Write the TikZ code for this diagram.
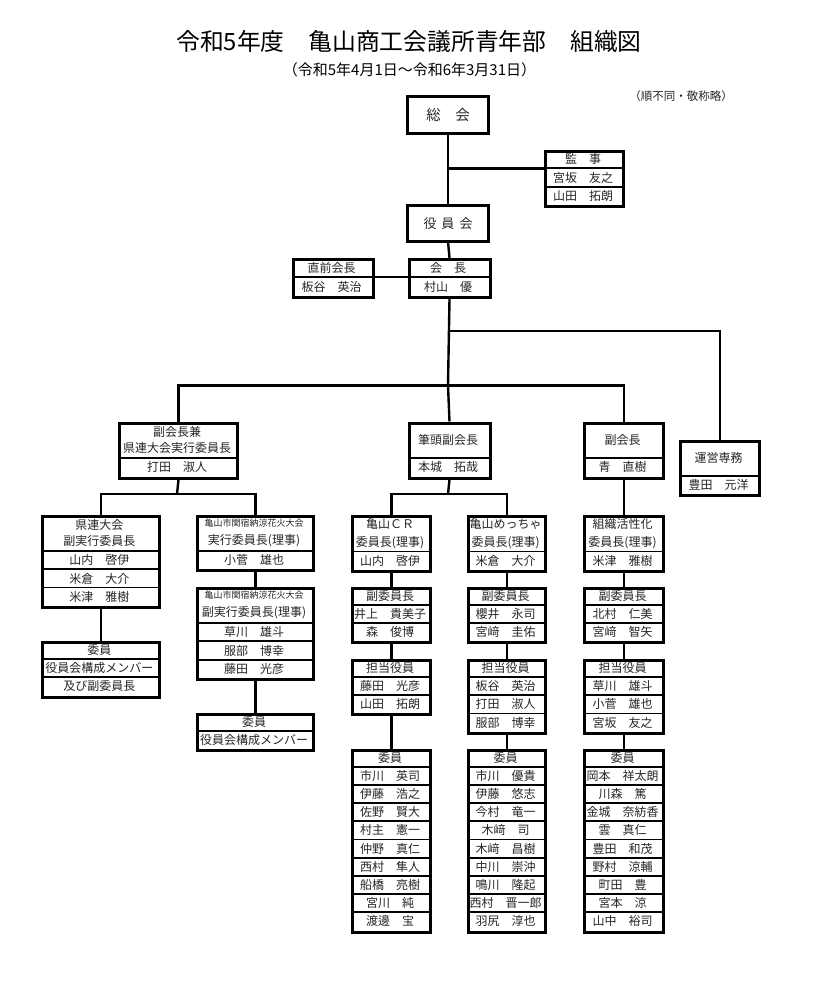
\documentclass[tikz,border=0pt]{standalone}
\usepackage{fontspec}
\setmainfont{Noto Sans CJK JP}
\usetikzlibrary{calc}
\tikzset{
  frame/.style={draw=black, line width=3pt, inner sep=0pt},
  cell/.style={inner sep=0pt, outer sep=0pt, align=center, text=black!85, font=\fontsize{12}{16}\selectfont},
  divider/.style={line width=1.7pt},
  conn/.style={line width=2.4pt},
}
% #1 name, #2 left, #3 top, #4 width, #5 first row height, #6 other row height, #7 number of other rows, #8 first text, #9 other texts
\newcommand\orgbox[9]{%
  \node[cell, minimum width=#4pt, minimum height=#5pt, anchor=north west] (#1-0) at (#2,#3) {#8};
  \foreach \rtx [count=\ri] in {#9}{%
    \pgfmathsetmacro\yy{#3+#5+(\ri-1)*#6}%
    \node[cell, minimum width=#4pt, minimum height=#6pt, anchor=north west] (#1-\ri) at (#2,\yy) {\rtx};
    \draw[divider] (#1-\ri.north west) -- (#1-\ri.north east);
  }%
  \pgfmathsetmacro\hh{#5+#7*#6}%
  \node[frame, minimum width=#4pt, minimum height=\hh pt, anchor=north west] (#1) at (#2,#3) {};
}
% #1 name, #2 left, #3 top, #4 width, #5 height, #6 text
\newcommand\onebox[6]{%
  \node[cell, frame, minimum width=#4pt, minimum height=#5pt, anchor=north west] (#1) at (#2,#3) {#6};
}
\begin{document}
\begin{tikzpicture}[x=1pt,y=-1pt]
\fill[white] (0,0) rectangle (825,999);
\useasboundingbox (0,0) rectangle (825,999);

% titles
\node (title) at (409,41.7) {\fontsize{23.8}{23.8}\selectfont 令和5年度　亀山商工会議所青年部　組織図};
\node (sub) at (409.5,70) {\fontsize{15}{15}\selectfont （令和5年4月1日～令和6年3月31日）};
\node[text=black!85] (note) at (681,96) {\fontsize{11.5}{11.5}\selectfont （順不同・敬称略）};

% top
\onebox{sokai}{407.5}{96.5}{81}{36.5}{\fontsize{14.5}{14.5}\selectfont 総　会}
\orgbox{kanji}{544}{150}{78}{18.3}{18.5}{2}{監　事}{宮坂　友之,山田　拓朗}
\onebox{yakuinkai}{407.5}{205}{81}{36.5}{\fontsize{13}{13}\selectfont 役\hspace{5pt}員\hspace{5pt}会}
\orgbox{kaicho}{407.5}{258}{81}{19}{19}{1}{会　長}{村山　優}
\orgbox{zenkaicho}{291.7}{258}{80}{19}{19}{1}{直前会長}{板谷　英治}

% middle row
\orgbox{fukuken}{118}{421.5}{118}{36.5}{18.7}{1}{副会長兼\\県連大会実行委員長}{打田　淑人}
\orgbox{hitto}{407.5}{421.5}{81}{36.5}{18.7}{1}{筆頭副会長}{本城　拓哉}
\orgbox{fuku}{583}{421.5}{79}{36.3}{18.9}{1}{副会長}{青　直樹}
\orgbox{unei}{679}{440}{79}{35.7}{18.3}{1}{運営専務}{豊田　元洋}

% left branch
\orgbox{kenren}{41}{515}{116.5}{36}{18.3}{3}{県連大会\\副実行委員長}{山内　啓伊,米倉　大介,米津　雅樹}
\orgbox{kenreniin}{41}{641}{116.5}{18}{18.3}{2}{委員}{役員会構成メンバー,及び副委員長}
\orgbox{hanabi}{195.7}{515}{116.6}{36}{18.3}{1}{{\fontsize{9}{11}\selectfont 亀山市関宿納涼花火大会}\\[2pt]実行委員長(理事)}{小菅　雄也}
\orgbox{hanabifuku}{195.7}{587.3}{116.6}{35.4}{18.5}{3}{{\fontsize{9}{11}\selectfont 亀山市関宿納涼花火大会}\\[2pt]副実行委員長(理事)}{草川　雄斗,服部　博幸,藤田　光彦}
\orgbox{hanabiiin}{195.7}{712.7}{116.6}{18}{18.6}{1}{委員}{役員会構成メンバー}

% committee columns
\orgbox{cr}{350.7}{515}{78.6}{36.5}{18.3}{1}{亀山ＣＲ\\[2pt]委員長(理事)}{山内　啓伊}
\orgbox{mecha}{467}{515}{77.3}{36.5}{18.3}{1}{亀山めっちゃ\\[2pt]委員長(理事)}{米倉　大介}
\orgbox{soshiki}{583}{515}{79}{36.5}{18.3}{1}{組織活性化\\[2pt]委員長(理事)}{米津　雅樹}

\orgbox{crfuku}{350.7}{587}{78.6}{18}{18.2}{2}{副委員長}{井上　貴美子,森　俊博}
\orgbox{mechafuku}{467}{587}{77.3}{18}{18.2}{2}{副委員長}{櫻井　永司,宮﨑　圭佑}
\orgbox{soshikifuku}{583}{587}{79}{18}{18.2}{2}{副委員長}{北村　仁美,宮﨑　智矢}

\orgbox{crtanto}{350.7}{659}{78.6}{18}{18.2}{2}{担当役員}{藤田　光彦,山田　拓朗}
\orgbox{mechatanto}{467}{659}{77.3}{18}{18.2}{3}{担当役員}{板谷　英治,打田　淑人,服部　博幸}
\orgbox{soshikitanto}{583}{659}{79}{18}{18.2}{3}{担当役員}{草川　雄斗,小菅　雄也,宮坂　友之}

\orgbox{criin}{350.7}{748.5}{78.6}{18.2}{18.2}{9}{委員}{市川　英司,伊藤　浩之,佐野　賢大,村主　憲一,仲野　真仁,西村　隼人,船橋　亮樹,宮川　純,渡邊　宝}
\orgbox{mechaiin}{467}{748.5}{77.3}{18.2}{18.2}{9}{委員}{市川　優貴,伊藤　悠志,今村　竜一,木﨑　司,木﨑　昌樹,中川　崇沖,鳴川　隆起,西村　晋一郎,羽尻　淳也}
\orgbox{soshikiiin}{583}{748.5}{79}{18.2}{18.2}{9}{委員}{岡本　祥太朗,川森　篤,金城　奈紡香,雲　真仁,豊田　和茂,野村　涼輔,町田　豊,宮本　涼,山中　裕司}

% junctions
\coordinate (j1) at (448,385.5);
\coordinate (j2) at (448,331);
\coordinate (j3) at (177,494);
\coordinate (j4) at (448,494);

% connectors
\draw[conn] (sokai.south) -- (yakuinkai.north);
\draw[conn] (kanji-0.south west) -- (kanji-0.south west -| sokai.south);
\draw[conn] (yakuinkai.south) -- (kaicho.north);
\draw[conn] (zenkaicho-0.south east) -- (kaicho-0.south west);
\draw[conn] (kaicho.south) -- (j1);
\draw[conn] (j2) -| (unei.north);
\draw[conn] (fukuken.north) |- (j1) -| (fuku.north);
\draw[conn] (j1) -- (hitto.north);
\draw[conn] (fukuken.south) -- (j3);
\draw[conn] (kenren.north) |- (j3) -| (hanabi.north);
\draw[conn] (kenren.south) -- (kenreniin.north);
\draw[conn] (hanabi.south) -- (hanabifuku.north);
\draw[conn] (hanabifuku.south) -- (hanabiiin.north);
\draw[conn] (hitto.south) -- (j4);
\draw[conn] (cr.north) |- (j4) -| (mecha.north);
\draw[conn] (fuku.south) -- (soshiki.north);
\draw[conn] (cr.south) -- (crfuku.north);
\draw[conn] (crfuku.south) -- (crtanto.north);
\draw[conn] (crtanto.south) -- (criin.north);
\draw[conn] (mecha.south) -- (mechafuku.north);
\draw[conn] (mechafuku.south) -- (mechatanto.north);
\draw[conn] (mechatanto.south) -- (mechaiin.north);
\draw[conn] (soshiki.south) -- (soshikifuku.north);
\draw[conn] (soshikifuku.south) -- (soshikitanto.north);
\draw[conn] (soshikitanto.south) -- (soshikiiin.north);
\end{tikzpicture}
\end{document}
